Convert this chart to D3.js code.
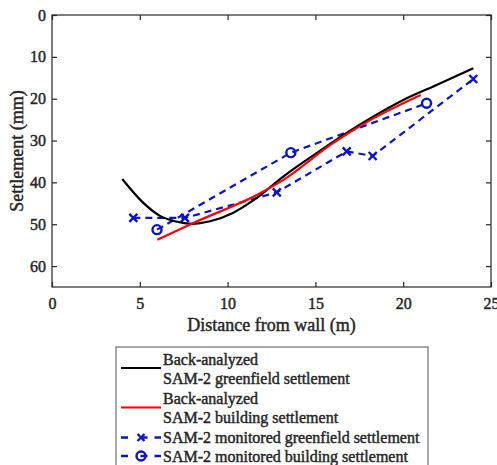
<!DOCTYPE html>
<html>
<head>
<meta charset="utf-8">
<script src="https://cdn.jsdelivr.net/npm/d3@7"></script>
<style>
  body { margin: 0; background: #fff; }
</style>
</head>
<body>
<svg id="chart"></svg>
<script>
// back-analyzed curves (distance m, settlement mm)
const greenfield_x = [4.0, 5.2, 6.15, 7.0, 7.96, 9.0, 10.3, 11.5, 13.17, 15.07, 17.5, 20.2, 21.9, 24.0];
const greenfield_y = [39.2, 44.9, 48.0, 49.3, 49.9, 49.3, 47.3, 44.2, 38.6, 33.0, 26.3, 19.9, 16.7, 12.7];
const building_x = [6.0, 8.05, 11.85, 13.17, 16.0, 18.3, 21.0];
const building_y = [53.7, 49.7, 42.6, 39.4, 30.6, 24.7, 19.1];

// monitored points
const mon_green_x = [4.63, 7.57, 12.8, 16.78, 18.26, 23.99];
const mon_green_y = [48.5, 48.5, 42.4, 32.6, 33.7, 15.3];
const mon_build_x = [5.98, 13.6, 21.33];
const mon_build_y = [51.3, 32.9, 21.1];

const x_ticks = [0, 5, 10, 15, 20, 25];
const y_ticks = [0, 10, 20, 30, 40, 50, 60];

const legend_labels = [
  ["Back-analyzed", "SAM-2 greenfield settlement"],
  ["Back-analyzed", "SAM-2 building settlement"],
  ["SAM-2 monitored greenfield settlement"],
  ["SAM-2 monitored building settlement"]
];

const width = 497, height = 465;
const pl = 52, pr = 491, pt = 15, pb = 287;
const blue = "#0a14c8";
const ink = "#262626";
const serif = '"Liberation Serif", "Times New Roman", Tinos, serif';

const svg = d3.select("#chart").attr("width", width).attr("height", height);

const xs = d3.scaleLinear().domain([0, 25]).range([pl, pr]);
const ys = d3.scaleLinear().domain([0, 65]).range([pt, pb]);

function zip(a, b) { return a.map((v, i) => [v, b[i]]); }

// heavy-looking serif text, like the scanned figure
function style_text(sel, size) {
  sel.style("font-family", serif).style("font-size", size + "px")
     .attr("fill", ink).attr("stroke", ink).attr("stroke-width", 0.45);
}

const curve = d3.line().x(d => xs(d[0])).y(d => ys(d[1])).curve(d3.curveMonotoneX);
const straight = d3.line().x(d => xs(d[0])).y(d => ys(d[1]));

// frame with inward ticks on every side
svg.append("rect")
  .attr("x", pl).attr("y", pt)
  .attr("width", pr - pl).attr("height", pb - pt)
  .attr("fill", "none").attr("stroke", ink).attr("stroke-width", 1.2);

svg.append("g").attr("transform", "translate(0," + pb + ")")
  .call(d3.axisBottom(xs).tickValues(x_ticks).tickSizeInner(-5).tickSizeOuter(0).tickPadding(11))
  .call(g => g.select(".domain").remove());
svg.append("g").attr("transform", "translate(0," + pt + ")")
  .call(d3.axisTop(xs).tickValues(x_ticks).tickSizeInner(-5).tickSizeOuter(0).tickFormat(""))
  .call(g => g.select(".domain").remove());
svg.append("g").attr("transform", "translate(" + pl + ",0)")
  .call(d3.axisLeft(ys).tickValues(y_ticks).tickSizeInner(-5).tickSizeOuter(0).tickPadding(6))
  .call(g => g.select(".domain").remove());
svg.append("g").attr("transform", "translate(" + pr + ",0)")
  .call(d3.axisRight(ys).tickValues(y_ticks).tickSizeInner(-5).tickSizeOuter(0).tickFormat(""))
  .call(g => g.select(".domain").remove());
svg.selectAll(".tick line").attr("stroke", ink).attr("stroke-width", 1.2);
style_text(svg.selectAll(".tick text"), 16);

// axis titles
svg.append("text")
  .attr("x", (pl + pr) / 2).attr("y", 331)
  .attr("text-anchor", "middle")
  .text("Distance from wall (m)")
  .call(style_text, 18);
svg.append("text")
  .attr("transform", "translate(23," + (pt + pb) / 2 + ") rotate(-90)")
  .attr("text-anchor", "middle")
  .text("Settlement (mm)")
  .call(style_text, 18);

// monitored series
svg.append("path").attr("d", straight(zip(mon_green_x, mon_green_y)))
  .attr("fill", "none").attr("stroke", blue).attr("stroke-width", 2.2).attr("stroke-dasharray", "7,5");
svg.append("path").attr("d", straight(zip(mon_build_x, mon_build_y)))
  .attr("fill", "none").attr("stroke", blue).attr("stroke-width", 2.2).attr("stroke-dasharray", "7,5");

function x_marker(g, cx, cy, s) {
  g.append("path")
    .attr("d", "M" + (cx - s) + "," + (cy - s) + "L" + (cx + s) + "," + (cy + s) +
               "M" + (cx - s) + "," + (cy + s) + "L" + (cx + s) + "," + (cy - s))
    .attr("stroke", blue).attr("stroke-width", 2.4).attr("fill", "none");
}
function o_marker(g, cx, cy, r) {
  g.append("circle").attr("cx", cx).attr("cy", cy).attr("r", r)
    .attr("fill", "none").attr("stroke", blue).attr("stroke-width", 2.4);
}

const marks = svg.append("g");
mon_green_x.forEach((v, i) => x_marker(marks, xs(v), ys(mon_green_y[i]), 4));
mon_build_x.forEach((v, i) => o_marker(marks, xs(v), ys(mon_build_y[i]), 4.5));

// back-analyzed curves
svg.append("path").attr("d", curve(zip(greenfield_x, greenfield_y)))
  .attr("fill", "none").attr("stroke", "#000").attr("stroke-width", 2.2);
svg.append("path").attr("d", curve(zip(building_x, building_y)))
  .attr("fill", "none").attr("stroke", "#f00").attr("stroke-width", 2.2);

// legend
const lg = svg.append("g");
lg.append("rect").attr("x", 116).attr("y", 347).attr("width", 312).attr("height", 125)
  .attr("fill", "#fff").attr("stroke", "#555").attr("stroke-width", 1);

const row_y = [359.5, 378, 398.5, 417.5, 437.5, 456];
let r = 0;
legend_labels.forEach(lines => {
  lines.forEach(t => {
    lg.append("text").attr("x", 163).attr("y", row_y[r] + 5.5)
      .text(t).call(style_text, 16);
    r++;
  });
});
lg.append("line").attr("x1", 121).attr("x2", 161).attr("y1", 368).attr("y2", 368)
  .attr("stroke", "#000").attr("stroke-width", 2.2);
lg.append("line").attr("x1", 121).attr("x2", 161).attr("y1", 407.5).attr("y2", 407.5)
  .attr("stroke", "#f00").attr("stroke-width", 2.2);
[437.5, 456].forEach((yy, i) => {
  lg.append("line").attr("x1", 121).attr("x2", 161).attr("y1", yy).attr("y2", yy)
    .attr("stroke", blue).attr("stroke-width", 2.4).attr("stroke-dasharray", "7,12.5,7");
  if (i === 0) x_marker(lg, 141, yy, 3.5);
  else o_marker(lg, 141, yy, 4.5);
});
</script>
</body>
</html>
